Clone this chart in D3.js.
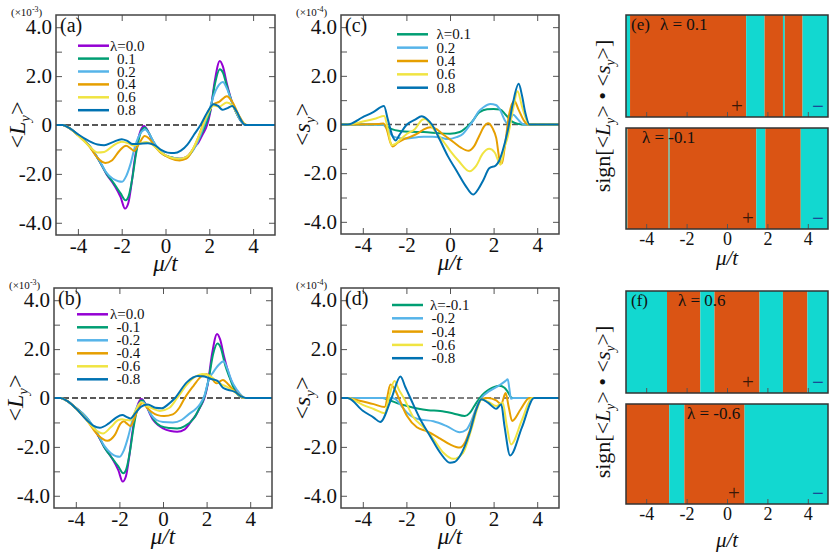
<!DOCTYPE html>
<html>
<head>
<meta charset="utf-8">
<script src="https://cdn.jsdelivr.net/npm/d3@7/dist/d3.min.js"></script>
<style>
  body { margin: 0; background: #fff; }
  svg text { font-family: "Liberation Serif", "Times New Roman", "DejaVu Serif", serif; fill: #111; }
</style>
</head>
<body>
<div id="fig"></div>
<script>
// ---- data ----
// panel (a)/(b): <L_y> in units of 1e-3, each series is [mu/t, value]
const lyLam00 = [[-5,0],[-4.7,0],[-4.4,-0.12],[-4,-0.4],[-3.5,-0.82],[-3,-1.5],[-2.7,-2.0],[-2.35,-2.45],[-2.05,-2.95],[-1.85,-3.42],[-1.7,-3.2],[-1.55,-2.4],[-1.42,-1.5],[-1.2,-0.4],[-0.98,-0.04],[-0.8,-0.25],[-0.65,-0.55],[-0.45,-0.9],[-0.2,-1.12],[0,-1.24],[0.35,-1.35],[0.65,-1.38],[1.0,-1.28],[1.35,-0.88],[1.5,-0.72],[1.7,-0.38],[1.9,0.0],[2.05,0.55],[2.25,1.8],[2.48,2.62],[2.62,2.4],[2.8,1.7],[3.05,0.9],[3.35,0.3],[3.6,0.03],[3.72,0],[5,0]];
const lyPos01 = [[-5,0],[-4.7,0],[-4.4,-0.12],[-4,-0.4],[-3.5,-0.82],[-3,-1.5],[-2.7,-1.98],[-2.35,-2.4],[-2.05,-2.8],[-1.82,-3.08],[-1.68,-2.9],[-1.5,-2.1],[-1.35,-1.2],[-1.15,-0.35],[-0.95,-0.1],[-0.78,-0.3],[-0.6,-0.6],[-0.4,-0.92],[-0.1,-1.2],[0.3,-1.33],[0.7,-1.4],[1.0,-1.3],[1.35,-0.88],[1.6,-0.45],[1.85,0.05],[2.05,0.6],[2.25,1.65],[2.48,2.28],[2.62,2.15],[2.8,1.6],[3.05,0.9],[3.35,0.3],[3.6,0.03],[3.72,0],[5,0]];
const lyPos02 = [[-5,0],[-4.7,0],[-4.4,-0.12],[-4,-0.4],[-3.5,-0.82],[-3,-1.48],[-2.7,-1.95],[-2.4,-2.2],[-2.15,-2.3],[-1.98,-2.32],[-1.8,-2.1],[-1.6,-1.6],[-1.4,-0.9],[-1.15,-0.35],[-0.92,-0.18],[-0.75,-0.35],[-0.55,-0.68],[-0.3,-1.0],[0,-1.25],[0.4,-1.35],[0.8,-1.38],[1.1,-1.22],[1.4,-0.82],[1.6,-0.4],[1.8,0.1],[2.0,0.6],[2.2,1.2],[2.45,1.65],[2.62,1.76],[2.8,1.5],[3.05,0.9],[3.35,0.3],[3.6,0.03],[3.72,0],[5,0]];
const lyPos04 = [[-5,0],[-4.7,0],[-4.4,-0.12],[-4,-0.42],[-3.5,-0.85],[-3.1,-1.35],[-2.75,-1.55],[-2.45,-1.45],[-2.1,-1.05],[-1.8,-0.85],[-1.6,-0.95],[-1.44,-1.06],[-1.2,-0.75],[-0.95,-0.45],[-0.75,-0.55],[-0.5,-0.85],[-0.2,-1.15],[0.2,-1.35],[0.65,-1.45],[0.95,-1.38],[1.25,-1.0],[1.5,-0.5],[1.7,0.0],[1.95,0.55],[2.2,0.85],[2.45,0.95],[2.8,1.18],[3.05,0.95],[3.35,0.4],[3.6,0.05],[3.75,0],[5,0]];
const lyPos06 = [[-5,0],[-4.7,0],[-4.4,-0.12],[-4,-0.42],[-3.5,-0.85],[-3.1,-1.12],[-2.8,-1.1],[-2.4,-0.85],[-2.0,-0.69],[-1.7,-0.75],[-1.45,-0.85],[-1.15,-0.75],[-0.88,-0.7],[-0.6,-0.8],[-0.3,-1.05],[0.1,-1.28],[0.6,-1.38],[0.95,-1.3],[1.25,-0.98],[1.5,-0.5],[1.72,0.0],[1.95,0.5],[2.2,0.8],[2.45,0.75],[2.8,0.92],[3.05,0.8],[3.35,0.35],[3.6,0.04],[3.75,0],[5,0]];
const lyPos08 = [[-5,0],[-4.7,0],[-4.4,-0.12],[-4,-0.38],[-3.5,-0.65],[-3.1,-0.8],[-2.8,-0.83],[-2.4,-0.7],[-2.0,-0.58],[-1.75,-0.65],[-1.5,-0.78],[-1.2,-0.77],[-0.8,-0.75],[-0.5,-0.82],[-0.2,-1.02],[0.1,-1.13],[0.4,-1.15],[0.7,-1.05],[1.0,-0.8],[1.3,-0.4],[1.6,0.0],[1.9,0.5],[2.2,0.85],[2.4,0.78],[2.6,0.62],[2.8,0.68],[3.05,0.78],[3.25,0.55],[3.45,0.2],[3.6,0.02],[3.7,0],[5,0]];
const lyNeg01 = [[-5,0],[-4.7,0],[-4.4,-0.12],[-4,-0.4],[-3.5,-0.8],[-3,-1.48],[-2.7,-2.0],[-2.3,-2.5],[-2.05,-2.8],[-1.82,-3.08],[-1.68,-2.9],[-1.5,-2.1],[-1.35,-1.2],[-1.15,-0.35],[-0.95,-0.09],[-0.78,-0.3],[-0.6,-0.6],[-0.4,-0.92],[-0.1,-1.15],[0.3,-1.23],[0.65,-1.25],[1.0,-1.15],[1.4,-0.85],[1.65,-0.45],[1.9,0.05],[2.1,0.8],[2.3,1.8],[2.5,2.23],[2.65,2.05],[2.85,1.35],[3.05,0.85],[3.3,0.3],[3.55,0.05],[3.72,0],[5,0]];
const lyNeg02 = [[-5,0],[-4.7,0],[-4.4,-0.12],[-4,-0.4],[-3.5,-0.8],[-3,-1.45],[-2.7,-1.95],[-2.4,-2.25],[-2.15,-2.38],[-1.98,-2.4],[-1.8,-2.15],[-1.6,-1.6],[-1.4,-0.9],[-1.15,-0.3],[-0.92,-0.16],[-0.75,-0.35],[-0.55,-0.68],[-0.3,-0.9],[0,-0.98],[0.45,-1.0],[0.85,-0.9],[1.2,-0.65],[1.5,-0.45],[1.7,-0.25],[1.9,0.1],[2.1,0.75],[2.3,1.05],[2.55,1.35],[2.78,1.5],[2.95,1.2],[3.15,0.7],[3.4,0.32],[3.6,0.1],[3.78,0],[5,0]];
const lyNeg04 = [[-5,0],[-4.7,0],[-4.4,-0.12],[-4,-0.42],[-3.5,-0.9],[-3.0,-1.5],[-2.55,-1.75],[-2.2,-1.5],[-1.95,-1.05],[-1.8,-0.95],[-1.65,-1.05],[-1.5,-1.15],[-1.3,-0.8],[-1.1,-0.35],[-0.95,-0.2],[-0.75,-0.38],[-0.55,-0.55],[-0.25,-0.7],[0.05,-0.74],[0.45,-0.67],[0.75,-0.4],[1.0,0.0],[1.4,0.5],[1.75,0.88],[2.0,0.97],[2.2,0.85],[2.45,0.6],[2.75,0.74],[3.0,0.55],[3.25,0.3],[3.55,0.1],[3.75,0],[5,0]];
const lyNeg06 = [[-5,0],[-4.7,0],[-4.4,-0.12],[-4,-0.42],[-3.5,-0.9],[-3.1,-1.3],[-2.75,-1.45],[-2.4,-1.2],[-2.05,-0.9],[-1.87,-0.87],[-1.7,-0.9],[-1.5,-0.92],[-1.25,-0.5],[-1.0,-0.17],[-0.8,-0.3],[-0.55,-0.4],[-0.15,-0.53],[0.3,-0.4],[0.65,0.0],[1.1,0.55],[1.5,0.88],[1.8,0.98],[2.15,0.9],[2.45,0.7],[2.7,0.55],[2.95,0.45],[3.2,0.3],[3.45,0.14],[3.7,0],[5,0]];
const lyNeg08 = [[-5,0],[-4.7,0],[-4.4,-0.12],[-4,-0.42],[-3.5,-0.9],[-3.2,-1.13],[-2.9,-1.22],[-2.5,-1.05],[-2.15,-0.8],[-1.87,-0.7],[-1.65,-0.78],[-1.5,-0.84],[-1.25,-0.6],[-1.0,-0.35],[-0.7,-0.27],[-0.35,-0.4],[-0.05,-0.42],[0.25,-0.25],[0.55,0.0],[1.1,0.65],[1.6,0.9],[1.9,0.88],[2.2,0.78],[2.5,0.7],[2.75,0.42],[3.0,0.33],[3.3,0.25],[3.6,0.06],[3.8,0],[5,0]];

// panel (c)/(d): <s_y> in units of 1e-4
const syPos01 = [[-5,0],[-3.1,0],[-2.9,-0.08],[-2.7,-0.18],[-2.3,-0.27],[-1.8,-0.3],[-1.2,-0.31],[-0.5,-0.36],[0,-0.38],[0.45,-0.31],[0.75,-0.12],[0.95,0.05],[1.35,0.5],[1.7,0.63],[2.0,0.64],[2.3,0.62],[2.55,0.4],[2.85,0.12],[3.1,0.03],[3.35,0],[5,0]];
const syPos02 = [[-5,0],[-3.1,0],[-2.9,-0.15],[-2.6,-0.5],[-2.3,-0.56],[-1.97,-0.58],[-1.5,-0.52],[-1.2,-0.5],[-0.8,-0.5],[-0.45,-0.53],[-0.1,-0.6],[0.3,-0.52],[0.6,-0.38],[0.85,-0.1],[1.06,0.16],[1.3,0.52],[1.55,0.72],[1.85,0.84],[2.1,0.8],[2.3,0.6],[2.5,0.2],[2.62,0.05],[2.75,0.22],[2.9,0.4],[3.05,0.28],[3.25,0.08],[3.4,0],[5,0]];
const syPos04 = [[-5,0],[-3.3,0.02],[-3.05,0.04],[-2.9,-0.2],[-2.75,-0.7],[-2.62,-0.9],[-2.4,-0.75],[-2.1,-0.6],[-1.8,-0.5],[-1.5,-0.38],[-1.2,-0.2],[-0.9,-0.11],[-0.6,-0.2],[-0.4,-0.35],[-0.1,-0.55],[0.2,-0.75],[0.5,-0.95],[0.85,-1.08],[1.1,-0.9],[1.35,-0.45],[1.55,-0.1],[1.75,0.05],[1.95,-0.15],[2.12,-0.55],[2.3,-1.55],[2.38,-1.6],[2.5,-1.0],[2.7,0.35],[2.95,0.98],[3.15,0.6],[3.4,0.15],[3.6,0],[5,0]];
const syPos06 = [[-5,0],[-4.7,0],[-4.0,0.12],[-3.4,0.25],[-3.02,0.35],[-2.85,-0.2],[-2.68,-0.85],[-2.5,-0.8],[-2.2,-0.55],[-1.97,-0.38],[-1.6,-0.18],[-1.3,0.18],[-1.14,0.23],[-0.9,0.0],[-0.6,-0.38],[-0.3,-0.7],[0,-1.07],[0.4,-1.5],[0.9,-1.92],[1.2,-1.7],[1.5,-1.2],[1.8,-1.0],[2.05,-1.15],[2.32,-1.65],[2.48,-1.0],[2.65,-0.5],[2.88,0.57],[3.1,1.37],[3.3,0.75],[3.5,0.2],[3.65,0],[5,0]];
const syPos08 = [[-5,0],[-4.7,0],[-4.0,0.3],[-3.5,0.52],[-3.03,0.76],[-2.85,0.2],[-2.65,-0.45],[-2.5,-0.66],[-2.3,-0.4],[-2.0,-0.02],[-1.6,0.2],[-1.3,0.34],[-1.05,0.22],[-0.83,0.0],[-0.45,-0.66],[-0.1,-1.3],[0.3,-1.9],[0.7,-2.5],[1.06,-2.88],[1.3,-2.65],[1.52,-2.3],[1.8,-1.8],[2.1,-1.68],[2.25,-1.5],[2.42,-1.07],[2.65,-0.25],[2.88,0.85],[3.15,1.67],[3.3,1.2],[3.45,0.5],[3.65,0],[5,0]];
const syNeg01 = [[-5,0],[-3.1,0],[-2.8,-0.08],[-2.4,-0.22],[-1.97,-0.33],[-1.5,-0.43],[-1.0,-0.5],[-0.45,-0.53],[0.15,-0.63],[0.68,-0.74],[0.9,-0.62],[1.1,-0.35],[1.36,0.0],[1.6,0.22],[1.82,0.36],[2.27,0.5],[2.5,0.42],[2.65,0.25],[2.8,0.03],[2.9,0],[5,0]];
const syNeg02 = [[-5,0],[-2.7,0],[-2.5,-0.05],[-2.25,-0.3],[-1.97,-0.6],[-1.65,-0.8],[-1.36,-0.88],[-0.76,-0.95],[-0.15,-1.15],[0.45,-1.4],[0.75,-1.3],[0.95,-1.0],[1.21,-0.4],[1.44,0.0],[1.82,0.29],[2.27,0.52],[2.55,0.7],[2.65,0.77],[2.72,0.4],[2.8,-0.03],[2.9,0],[5,0]];
const syNeg04 = [[-5,0],[-4.7,0],[-4.2,-0.1],[-3.5,-0.25],[-3.0,-0.37],[-2.73,0.55],[-2.5,0.3],[-2.35,0.0],[-1.97,-0.74],[-1.52,-1.2],[-1.06,-1.36],[-0.45,-1.66],[0,-1.9],[0.45,-2.03],[0.7,-1.8],[0.9,-1.35],[1.21,-0.46],[1.44,-0.05],[1.74,0.0],[2.12,-0.1],[2.35,-0.25],[2.55,0.2],[2.7,-0.4],[2.85,-0.94],[3.25,-0.45],[3.64,0],[5,0]];
const syNeg06 = [[-5,0],[-4.7,0],[-4.0,-0.28],[-3.5,-0.45],[-3.0,-0.62],[-2.78,0.1],[-2.55,0.7],[-2.35,0.35],[-2.12,0.0],[-1.67,-0.8],[-1.21,-1.2],[-0.76,-1.68],[-0.3,-2.24],[0.15,-2.49],[0.6,-2.24],[0.98,-1.28],[1.29,-0.33],[1.44,-0.05],[1.75,-0.15],[2.12,-0.33],[2.42,-0.19],[2.6,-1.1],[2.8,-1.9],[3.3,-0.9],[3.76,0],[5,0]];
const syNeg08 = [[-5,0],[-4.7,0],[-4.0,-0.52],[-3.5,-0.8],[-3.2,-0.98],[-2.7,-0.05],[-2.27,0.88],[-2.05,0.45],[-1.82,0.0],[-1.36,-0.88],[-0.91,-1.56],[-0.45,-2.24],[0,-2.65],[0.2,-2.62],[0.45,-2.38],[0.9,-1.42],[1.21,-0.46],[1.44,-0.05],[1.74,-0.19],[2.12,-0.44],[2.35,-0.26],[2.5,-1.15],[2.76,-2.35],[3.3,-1.2],[3.86,0],[5,0]];

// sign[<L_y>.<s_y>] bands: [from, to, sign]
const signE1 = [[-5,-4.8,-1],[-4.8,0.95,1],[0.95,1.86,-1],[1.86,2.77,1],[2.77,2.86,-1],[2.86,3.74,1],[3.74,5,-1]];
const signE2 = [[-5,-4.93,-1],[-4.93,-2.89,1],[-2.89,-2.84,-1],[-2.84,1.45,1],[1.45,1.9,-1],[1.9,3.65,1],[3.65,5,-1]];
const signF1 = [[-5,-2.97,-1],[-2.97,-1.32,1],[-1.32,-0.62,-1],[-0.62,1.61,1],[1.61,2.77,-1],[2.77,3.98,1],[3.98,5,-1]];
const signF2 = [[-5,-2.86,1],[-2.86,-2.11,-1],[-2.11,0.87,1],[0.87,5,-1]];

const labelsA = ['λ=0.0', '0.1', '0.2', '0.4', '0.6', '0.8'];
const labelsB = ['λ=0.0', '-0.1', '-0.2', '-0.4', '-0.6', '-0.8'];
const labelsC = ['λ=0.1', '0.2', '0.4', '0.6', '0.8'];
const labelsD = ['λ=-0.1', '-0.2', '-0.4', '-0.6', '-0.8'];
const xTicks = [-4, -2, 0, 2, 4];
const yTicks = [-4, -3, -2, -1, 0, 1, 2, 3, 4];

const lineColors = ['#9400d3', '#009e73', '#56b4e9', '#e69f00', '#f0e442', '#0072b2'];
const signColors = { '1': '#da5414', '-1': '#12d8d0' };

const svg = d3.select('#fig').append('svg')
  .attr('width', 830).attr('height', 554)
  .style('display', 'block');

const fmtX = d => (d < 0 ? '-' + Math.abs(d) : String(d));
const fmtY = d => (d % 2 !== 0 ? '' : d === 0 ? '0' : (d < 0 ? '-' : '') + Math.abs(d).toFixed(1));

function yLabel(x, y, letter, size) {
  const t = svg.append('text')
    .attr('transform', `translate(${x},${y}) rotate(-90)`)
    .attr('text-anchor', 'middle')
    .attr('font-size', size);
  t.append('tspan').text('<');
  t.append('tspan').attr('font-style', 'italic').text(letter);
  t.append('tspan').attr('font-style', 'italic').attr('font-size', size * 0.62).attr('dy', size * 0.22).text('y');
  t.append('tspan').attr('dy', -size * 0.22).text('>');
}

function muLabel(x, y, size) {
  svg.append('text').attr('x', x).attr('y', y)
    .attr('text-anchor', 'middle').attr('font-size', size)
    .attr('font-style', 'italic').text('μ/t');
}

function styleAxis(g) {
  g.select('.domain').remove();
  g.selectAll('.tick line').attr('stroke', '#555').attr('stroke-width', 1);
  g.selectAll('.tick text').attr('fill', '#111');
}

function curvePanel(p) {
  const x = d3.scaleLinear().domain([-5, 5]).range([p.l, p.r]);
  const y = d3.scaleLinear().domain([-4.5, 4.5]).range([p.b, p.t]);

  svg.append('clipPath').attr('id', 'clip-' + p.name)
    .append('rect').attr('x', p.l).attr('y', p.t)
    .attr('width', p.r - p.l).attr('height', p.b - p.t);

  // inward ticks on all four sides
  svg.append('g').attr('transform', `translate(0,${p.b})`)
    .call(d3.axisBottom(x).tickValues(xTicks).tickSize(-6).tickPadding(3).tickFormat(fmtX))
    .call(styleAxis)
    .style('font-size', '21px');
  svg.append('g').attr('transform', `translate(0,${p.t})`)
    .call(d3.axisTop(x).tickValues(xTicks).tickSize(-6).tickFormat(''))
    .call(styleAxis);
  svg.append('g').attr('transform', `translate(${p.l},0)`)
    .call(d3.axisLeft(y).tickValues(yTicks).tickSize(-6).tickPadding(4).tickFormat(fmtY))
    .call(styleAxis)
    .style('font-size', '21px');
  svg.append('g').attr('transform', `translate(${p.r},0)`)
    .call(d3.axisRight(y).tickValues(yTicks).tickSize(-6).tickFormat(''))
    .call(styleAxis);

  const plot = svg.append('g').attr('clip-path', `url(#clip-${p.name})`);
  plot.append('line')
    .attr('x1', x(-5)).attr('x2', x(5)).attr('y1', y(0)).attr('y2', y(0))
    .attr('stroke', p.dashColor).attr('stroke-width', 1.6)
    .attr('stroke-dasharray', '6 3');

  const line = d3.line().x(d => x(d[0])).y(d => y(d[1])).curve(d3.curveMonotoneX);
  p.series.forEach((s, i) => {
    plot.append('path').datum(s)
      .attr('fill', 'none')
      .attr('stroke', p.colors[i])
      .attr('stroke-width', 2)
      .attr('d', line);
  });

  // legend
  p.labels.forEach((lab, i) => {
    const yy = p.leg.y + i * p.leg.dy;
    svg.append('line')
      .attr('x1', p.leg.x).attr('x2', p.leg.x + 31)
      .attr('y1', yy).attr('y2', yy)
      .attr('stroke', p.colors[i]).attr('stroke-width', 2.5);
    svg.append('text')
      .attr('x', i === 0 ? p.leg.tx0 : p.leg.tx)
      .attr('y', yy + 5)
      .attr('font-size', 15)
      .text(lab);
  });

  svg.append('rect')
    .attr('x', p.l).attr('y', p.t)
    .attr('width', p.r - p.l).attr('height', p.b - p.t)
    .attr('fill', 'none').attr('stroke', '#444').attr('stroke-width', 1.5);

  // panel tag and multiplier
  svg.append('text').attr('x', p.l + 4).attr('y', p.t + 17)
    .attr('font-size', 20).text(p.tag);
  const m = svg.append('text').attr('x', p.l - 45).attr('y', p.t + 1)
    .attr('font-size', 11).text('(×10');
  m.append('tspan').attr('dy', -4).attr('font-size', 8).text(p.exp);
  m.append('tspan').attr('dy', 4).text(')');

  yLabel(p.l - 31, (p.t + p.b) / 2, p.letter, 24);
  muLabel((p.l + p.r) / 2, p.b + 36, 23);
}

curvePanel({
  name: 'a', l: 56, r: 275, t: 15, b: 235, tag: '(a)', exp: '-3', letter: 'L',
  series: [lyLam00, lyPos01, lyPos02, lyPos04, lyPos06, lyPos08],
  labels: labelsA, colors: lineColors, dashColor: '#222',
  leg: { x: 78, y: 45.7, dy: 12.9, tx0: 110, tx: 117 }
});
curvePanel({
  name: 'b', l: 54, r: 272, t: 288, b: 508, tag: '(b)', exp: '-3', letter: 'L',
  series: [lyLam00, lyNeg01, lyNeg02, lyNeg04, lyNeg06, lyNeg08],
  labels: labelsB, colors: lineColors, dashColor: '#222',
  leg: { x: 77, y: 314.3, dy: 13, tx0: 110, tx: 116.5 }
});
curvePanel({
  name: 'c', l: 341, r: 559, t: 15, b: 234, tag: '(c)', exp: '-4', letter: 's',
  series: [syPos01, syPos02, syPos04, syPos06, syPos08],
  labels: labelsC, colors: lineColors.slice(1), dashColor: '#555',
  leg: { x: 397, y: 34.3, dy: 13.35, tx0: 436.5, tx: 436.5 }
});
curvePanel({
  name: 'd', l: 341, r: 559, t: 288, b: 508, tag: '(d)', exp: '-4', letter: 's',
  series: [syNeg01, syNeg02, syNeg04, syNeg06, syNeg08],
  labels: labelsD, colors: lineColors.slice(1), dashColor: '#555',
  leg: { x: 392, y: 305, dy: 13.3, tx0: 430, tx: 431.5 }
});

// ---- sign panels (e), (f) ----
const xs = d3.scaleLinear().domain([-5, 5]).range([626, 828]);

function signBox(bands, t, b, showLabels, tag, lam, lamX, plusX) {
  const g = svg.append('g');
  g.selectAll('rect.band').data(bands).enter().append('rect')
    .attr('class', 'band')
    .attr('x', d => xs(d[0])).attr('width', d => Math.max(xs(d[1]) - xs(d[0]), 1))
    .attr('y', t).attr('height', b - t)
    .attr('fill', d => signColors[d[2]]);

  g.append('g').attr('transform', `translate(0,${b})`)
    .call(d3.axisBottom(xs).tickValues(xTicks).tickSize(-5).tickPadding(3)
      .tickFormat(showLabels ? fmtX : ''))
    .call(styleAxis)
    .style('font-size', '18px');

  g.append('rect').attr('x', xs(-5)).attr('y', t)
    .attr('width', xs(5) - xs(-5)).attr('height', b - t)
    .attr('fill', 'none').attr('stroke', '#333').attr('stroke-width', 1.5);

  if (tag) {
    g.append('text').attr('x', xs(-5) + 5).attr('y', t + 15).attr('font-size', 17).text(tag);
  }
  g.append('text').attr('x', lamX).attr('y', t + 15).attr('font-size', 17).text(lam);

  g.append('text').attr('x', plusX).attr('y', b - 11)
    .attr('text-anchor', 'middle').attr('dominant-baseline', 'central')
    .attr('font-size', 21).style('fill', '#3a1808').text('+');
  g.append('text').attr('x', 818).attr('y', b - 11)
    .attr('text-anchor', 'middle').attr('dominant-baseline', 'central')
    .attr('font-size', 21).style('fill', '#1a2a8a').text('−');
}

signBox(signE1, 15, 117, false, '(e)', 'λ = 0.1', 660, 737);
signBox(signE2, 128, 229, true, null, 'λ = -0.1', 642, 748);
signBox(signF1, 291, 393, false, '(f)', 'λ = 0.6', 678, 748);
signBox(signF2, 404, 504, true, null, 'λ = -0.6', 687, 734);

function signLabel(x, y) {
  const size = 22;
  const t = svg.append('text')
    .attr('transform', `translate(${x},${y}) rotate(-90)`)
    .attr('text-anchor', 'middle')
    .attr('font-size', size);
  t.append('tspan').text('sign[<');
  t.append('tspan').attr('font-style', 'italic').text('L');
  t.append('tspan').attr('font-style', 'italic').attr('font-size', size * 0.62).attr('dy', size * 0.22).text('y');
  t.append('tspan').attr('dy', -size * 0.22).text('> • <');
  t.append('tspan').attr('font-style', 'italic').text('s');
  t.append('tspan').attr('font-style', 'italic').attr('font-size', size * 0.62).attr('dy', size * 0.22).text('y');
  t.append('tspan').attr('dy', -size * 0.22).text('>]');
}
signLabel(610, 116);
signLabel(610, 402);
muLabel(727, 265, 21);
muLabel(727, 547, 21);
</script>
</body>
</html>
